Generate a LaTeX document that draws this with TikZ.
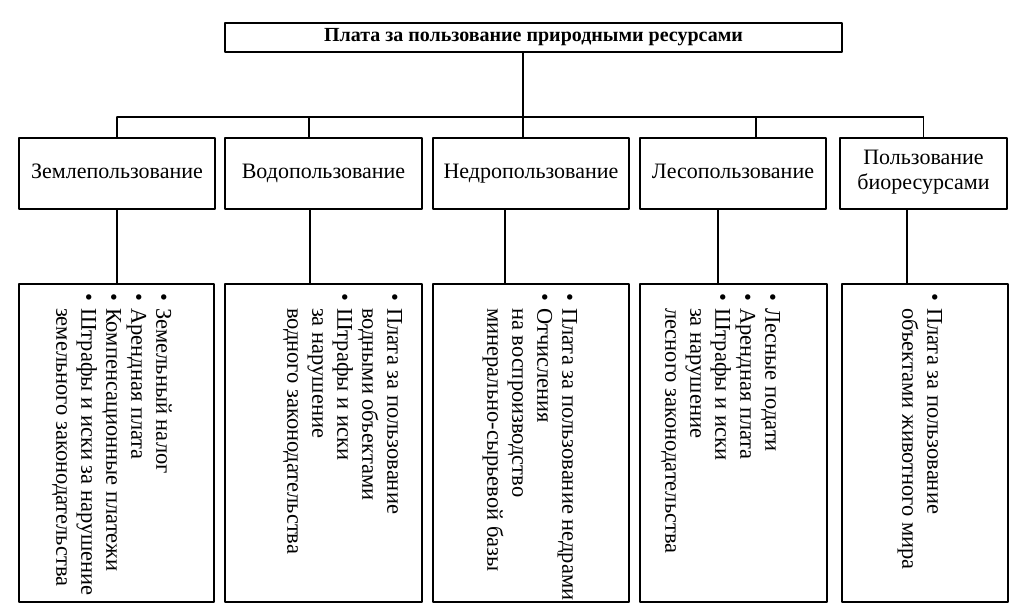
\documentclass[tikz,border=0pt]{standalone}
\usepackage{fontspec}
\setmainfont{Liberation Serif}
\newcommand{\bul}{\textbullet}
\tikzset{
  box/.style={draw,line width=1.3pt,inner sep=0pt,align=center,font=\fontsize{22}{25}\selectfont},
  list/.style={rotate=-90,anchor=north west,inner sep=0pt,font=\fontsize{22.5}{25}\selectfont},
}
\begin{document}
\begin{tikzpicture}[x=1pt,y=-1pt,line cap=round,line join=round]
	\useasboundingbox (0,0) rectangle (1025,613);
	\node[box,minimum width=617,minimum height=29,font=\bfseries\fontsize{20}{25}\selectfont] (plata) at (533.5,37.5) {Плата за пользование природными ресурсами};
	% kinds of use
	\foreach \name/\x/\w/\txt in {zem/117/196/Землепользование,vod/323.5/197/Водопользование,nedr/531/196/Недропользование,les/733/186/Лесопользование,bio/923.5/167/{Пользование\\биоресурсами}}
	\node[box,minimum width=\w,minimum height=71,execute at begin node=\strut] (\name) at (\x,173.5) {\txt};
	% payment boxes
	\foreach \name/\x/\w in {zemL/116.5/195,vodL/323.5/197,nedrL/531/196,lesL/733.5/187,bioL/925/166}
	\node[box,minimum width=\w,minimum height=318] (\name) at (\x,443) {};
	% connectors
	\coordinate (bus) at (0,117);
	\draw[line width=1.3pt] (zem.north |- bus) -- (bio.north |- bus);
	\draw[line width=1.3pt] ([xshift=-10.5]plata.south) -- ([xshift=-10.5]plata.south |- bus);
	\foreach \name/\d in {zem/0,vod/-14.5,nedr/-8,les/23,bio/0}
	\draw[line width=1.3pt] ([xshift=\d]\name.north) -- ([xshift=\d]\name.north |- bus);
	\foreach \name/\d in {zem/0,vod/-13.5,nedr/-26,les/-15,bio/-16.5}
	\draw[line width=1.3pt] ([xshift=\d]\name.south) -- ([xshift=\d]\name.south |- \name L.north);
	% rotated lists
	\node[list] (zemT) at (174,293) {\begin{tabular}{@{}c@{\hspace{7pt}}l@{}}
		\bul & Земельный налог\\
		\bul & Арендная плата\\
		\bul & Компенсационные платежи\\
		\bul & Штрафы и иски за нарушение\\
		& земельного законодательства
	\end{tabular}};
	\node[list] (vodT) at (405,293) {\begin{tabular}{@{}c@{\hspace{7pt}}l@{}}
		\bul & Плата за пользование\\
		& водными объектами\\
		\bul & Штрафы и иски\\
		& за нарушение\\
		& водного законодательства
	\end{tabular}};
	\node[list] (nedrT) at (580,293) {\begin{tabular}{@{}c@{\hspace{7pt}}l@{}}
		\bul & Плата за пользование недрами\\
		\bul & Отчисления\\
		& на воспроизводство\\
		& минерально-сырьевой базы
	\end{tabular}};
	\node[list] (lesT) at (783,293) {\begin{tabular}{@{}c@{\hspace{7pt}}l@{}}
		\bul & Лесные подати\\
		\bul & Арендная плата\\
		\bul & Штрафы и иски\\
		& за нарушение\\
		& лесного законодательства
	\end{tabular}};
	\node[list] (bioT) at (945,293) {\begin{tabular}{@{}c@{\hspace{7pt}}l@{}}
		\bul & Плата за пользование\\
		& объектами животного мира
	\end{tabular}};
\end{tikzpicture}
\end{document}
